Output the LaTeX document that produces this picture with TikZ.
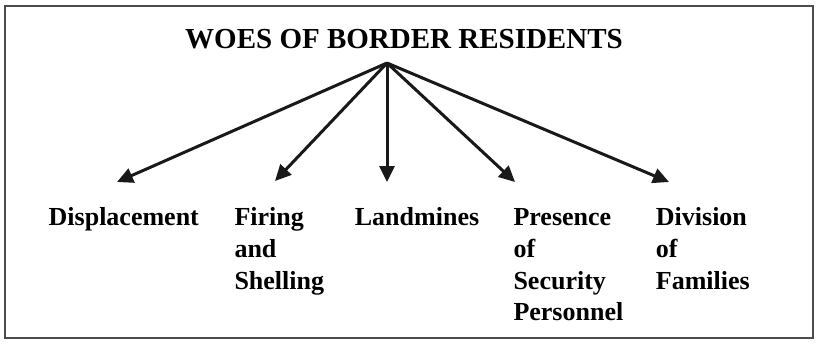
\documentclass[tikz,border=0pt]{standalone}
\usepackage{fontspec}
\setmainfont{Liberation Serif}
\usetikzlibrary{arrows.meta}
\begin{document}
\begin{tikzpicture}[>={Triangle[length=16pt,width=15pt]},x=1pt,y=-1pt,
		nhan/.style={anchor=north west,inner sep=0pt,align=left,font=\fontsize{26}{31.7}\selectfont\bfseries},
		muiten/.style={->,line width=3pt,black!90}]
			\useasboundingbox (0,0) rectangle (818,343);
			\draw[line width=1.3pt,black!70] (5,6) rectangle (813,338);
			\node[anchor=base,inner sep=0pt,font=\fontsize{29}{34}\selectfont\bfseries] (tieude) at (404,48) {WOES OF BORDER RESIDENTS};
			\coordinate (goc) at (387,63); % đỉnh chung của các mũi tên
			\node[nhan] (disp) at (48.5,207.6) {Displacement};
			\node[nhan] (fire) at (234.3,207.6) {Firing\\and\\Shelling};
			\node[nhan] (land) at (354.7,207.6) {Landmines};
			\node[nhan] (pres) at (513.3,208.5) {Presence\\of\\Security\\Personnel};
			\node[nhan] (divi) at (655.7,207.6) {Division\\of\\Families};
			\coordinate (ddisp) at (117,182);
			\coordinate (dfire) at (275,181);
			\coordinate (dland) at (387,182);
			\coordinate (dpres) at (515,182);
			\coordinate (ddivi) at (669,182);
			\foreach \d in {ddisp,dfire,dland,dpres,ddivi}
				\draw[muiten] (goc) -- (\d);
	\end{tikzpicture}
\end{document}
